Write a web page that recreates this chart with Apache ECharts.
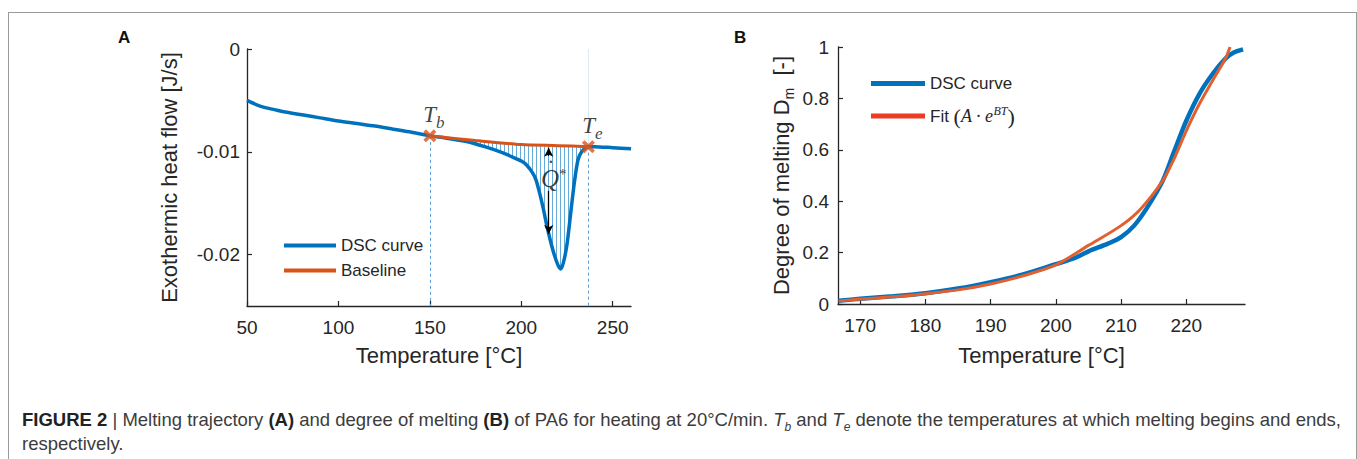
<!DOCTYPE html>
<html>
<head>
<meta charset="utf-8">
<script src="https://cdn.jsdelivr.net/npm/echarts@6/dist/echarts.min.js"></script>
<style>
  html, body { margin: 0; padding: 0; background: #fff; }
  #frame { position: absolute; left: 8px; top: 12px; width: 1347px; height: 480px; border: 1px solid #9b9b9b; }
  #chart { position: absolute; left: 0; top: 0; width: 1357px; height: 400px; }
  #caption { position: absolute; left: 22px; top: 408px; white-space: nowrap;
    font: 18.5px/24px "Liberation Sans", Arial, sans-serif; color: #3c3c3c; }
  #caption b { color: #222; }
  #caption sub { font-size: 12px; font-style: italic; line-height: 0; }
</style>
</head>
<body>
<div id="frame"></div>
<div id="chart"></div>
<div id="caption"><b>FIGURE 2</b> | Melting trajectory <b>(A)</b> and degree of melting <b>(B)</b> of PA6 for heating at 20°C/min. <i>T</i><sub>b</sub> and <i>T</i><sub>e</sub> denote the temperatures at which melting begins and ends,<br>respectively.</div>
<script>
// ---- panel A : DSC trace ----
var dscTemp = [50, 55, 60, 65, 70, 80, 90, 100, 110, 120, 130, 140, 150, 160, 170, 180, 190, 195, 200, 203, 206, 208, 210, 212, 214, 216, 218, 220, 221.5, 223, 225, 227, 229, 231, 233, 236.7, 240, 250, 260];
var dscFlow = [-0.0050, -0.0054, -0.0057, -0.0059, -0.0061, -0.0064, -0.0067, -0.0070, -0.00725, -0.0075, -0.0078, -0.0081, -0.00845, -0.0087, -0.0090, -0.0095, -0.0101, -0.0105, -0.0109, -0.0113, -0.0120, -0.0127, -0.0140, -0.0155, -0.0172, -0.0187, -0.0200, -0.0210, -0.0214, -0.0208, -0.0190, -0.0160, -0.0130, -0.0108, -0.0100, -0.0095, -0.0095, -0.0096, -0.0097];
var baseTemp = [150, 175, 200, 220, 236.7];
var baseFlow = [-0.00845, -0.0089, -0.0093, -0.0094, -0.0095];
var crossTemp = [150, 236.7];
var crossFlow = [-0.00845, -0.0095];
var crossSub = ['b', 'e'];
var ticksAx = [50, 100, 150, 200, 250];
var ticksAy = [-0.02, -0.01, 0];

// ---- panel B : degree of melting ----
var dmTemp = [166.7, 170, 175, 180, 185, 190, 195, 200, 203, 205, 208, 210, 212, 214, 216.4, 218, 220, 222, 224, 226, 227.2, 228.7];
var dmVal = [0.013, 0.02, 0.03, 0.042, 0.06, 0.085, 0.115, 0.155, 0.18, 0.205, 0.235, 0.26, 0.305, 0.375, 0.48, 0.584, 0.713, 0.817, 0.894, 0.955, 0.978, 0.991];
var fitTemp = [166.7, 170, 175, 180, 185, 190, 195, 200, 205, 210, 213, 216.4, 218, 220, 222, 224, 226, 226.7];
var fitVal = [0.012, 0.019, 0.028, 0.04, 0.055, 0.078, 0.11, 0.152, 0.228, 0.305, 0.37, 0.48, 0.558, 0.674, 0.778, 0.868, 0.955, 1.0];
var ticksBx = [170, 180, 190, 200, 210, 220];
var ticksBy = [0, 0.2, 0.4, 0.6, 0.8, 1];

function pairs(xs, ys) {
  return xs.map(function (x, i) { return [x, ys[i]]; });
}

var blue = '#0072BD', orange = '#D95319', ink = '#262626';
var serif = '"Liberation Serif", "DejaVu Serif", serif';
var sans = '"Liberation Sans", Arial, sans-serif';

// vertical hatch for the melting area
var hatch = document.createElement('canvas');
hatch.width = 4; hatch.height = 4;
var hctx = hatch.getContext('2d');
hctx.fillStyle = 'rgba(0,114,189,0.6)';
hctx.fillRect(0, 0, 1, 4);

var dscData = pairs(dscTemp, dscFlow);
var hatchData = dscData.filter(function (p) { return p[0] >= crossTemp[0] && p[0] <= crossTemp[1]; });

var chart = echarts.init(document.getElementById('chart'), null, { renderer: 'svg' });

function axisCommon(name, gap) {
  return {
    type: 'value',
    name: name,
    nameLocation: 'middle',
    nameGap: gap,
    nameTextStyle: { fontSize: 22, color: ink, fontFamily: sans },
    splitLine: { show: false },
    axisLine: { show: true, onZero: false, lineStyle: { color: ink, width: 1.3 } },
    axisTick: { show: true, inside: true, length: 5, lineStyle: { color: ink, width: 1.2 } },
    axisLabel: { fontSize: 19, color: ink, fontFamily: sans }
  };
}

var xA = axisCommon('Temperature [°C]', 38);
xA.min = 50; xA.max = 260;
xA.axisTick.customValues = ticksAx; xA.axisLabel.customValues = ticksAx; xA.axisLabel.margin = 12;
var yA = axisCommon('Exothermic heat flow [J/s]', 67);
yA.min = -0.025; yA.max = 0;
yA.axisTick.customValues = ticksAy; yA.axisLabel.customValues = ticksAy; yA.axisLabel.margin = 7;
var xB = axisCommon('Temperature [°C]', 40);
xB.min = 166.6; xB.max = 229;
xB.axisTick.customValues = ticksBx; xB.axisLabel.customValues = ticksBx; xB.axisLabel.margin = 12;
var yB = axisCommon('{a|Degree of melting D}{s|m}{a|  [-]}', 46);
yB.min = 0; yB.max = 1;
yB.axisTick.customValues = ticksBy; yB.axisLabel.customValues = ticksBy; yB.axisLabel.margin = 9;
yB.nameTextStyle.rich = {
  a: { fontSize: 22, color: ink, fontFamily: sans },
  s: { fontSize: 14, color: ink, fontFamily: sans, verticalAlign: 'bottom', padding: [0, 0, -4, 0] }
};
xB.gridIndex = 1; yB.gridIndex = 1;

chart.setOption({
  animation: false,
  grid: [
    { left: 247, top: 49, width: 384, height: 257 },
    { left: 838, top: 47, width: 407, height: 257 }
  ],
  xAxis: [xA, xB],
  yAxis: [yA, yB],
  legend: [
    {
      data: ['DSC curve', 'Baseline'],
      left: 279, top: 232, orient: 'vertical', itemGap: 8,
      icon: 'rect', itemWidth: 52, itemHeight: 4,
      textStyle: { fontSize: 17, color: ink, fontFamily: sans },
      selectedMode: false
    },
    {
      data: ['DSC curve', { name: 'Fit', itemStyle: { color: '#ec3c24' } }],
      left: 866, top: 70, orient: 'vertical', itemGap: 13,
      icon: 'rect', itemWidth: 54, itemHeight: 5,
      textStyle: {
        fontSize: 17, color: ink, fontFamily: sans,
        rich: {
          n: { fontSize: 17, color: ink, fontFamily: sans },
          p: { fontSize: 22, color: ink, fontFamily: serif },
          i: { fontSize: 18, color: ink, fontFamily: serif, fontStyle: 'italic' },
          s: { fontSize: 12, color: ink, fontFamily: serif, fontStyle: 'italic', verticalAlign: 'top' }
        }
      },
      formatter: function (name) {
        return name === 'Fit' ? '{n|Fit }{p|(}{i|A · e}{s|BT}{p|)}' : name;
      },
      selectedMode: false
    }
  ],
  graphic: [
    { type: 'text', left: 118, top: 29, style: { text: 'A', font: 'bold 17px ' + sans, fill: '#111' } },
    { type: 'text', left: 734, top: 29, style: { text: 'B', font: 'bold 17px ' + sans, fill: '#111' } }
  ],
  series: [
    {
      name: 'hatch', type: 'line', data: hatchData, smooth: 0.25,
      showSymbol: false, silent: true, z: 1,
      lineStyle: { width: 0, opacity: 0 },
      areaStyle: { color: { image: hatch, repeat: 'repeat', imageWidth: 4, imageHeight: 4 }, opacity: 1 }
    },
    {
      name: 'mask', type: 'line', data: pairs(baseTemp, baseFlow), smooth: 0.25,
      showSymbol: false, silent: true, z: 2,
      lineStyle: { width: 0, opacity: 0 },
      areaStyle: { color: '#fff', opacity: 1 }
    },
    {
      name: 'DSC curve', type: 'line', data: dscData, smooth: 0.25,
      showSymbol: false, z: 3, color: blue,
      lineStyle: { width: 3.5, color: blue }
    },
    {
      name: 'Baseline', type: 'line', data: pairs(baseTemp, baseFlow), smooth: 0.25,
      showSymbol: false, z: 4, color: orange,
      lineStyle: { width: 3, color: orange }
    },
    {
      name: 'marks', type: 'scatter', z: 6, data: pairs(crossTemp, crossFlow),
      symbol: 'path://M2,0 L5,3 L8,0 L10,2 L7,5 L10,8 L8,10 L5,7 L2,10 L0,8 L3,5 L0,2 Z',
      symbolSize: 13, itemStyle: { color: orange },
      label: {
        show: true, position: 'top', distance: 3, offset: [4, 0],
        formatter: function (p) { return '{t|T}{s|' + crossSub[p.dataIndex] + '}'; },
        rich: {
          t: { fontSize: 23, fontFamily: serif, fontStyle: 'italic', color: '#111' },
          s: { fontSize: 17, fontFamily: serif, fontStyle: 'italic', color: '#111', verticalAlign: 'bottom', padding: [0, 0, -5, 0] }
        }
      },
      markLine: {
        silent: true, symbol: 'none', z: 5,
        label: { show: false },
        lineStyle: { color: '#5b9bd5', width: 1, type: [3, 3] },
        data: crossTemp.map(function (t, i) {
          return [{ coord: [t, crossFlow[i]] }, { coord: [t, yA.min] }];
        })
      }
    },
    {
      name: 'Q', type: 'scatter', z: 7, silent: true,
      data: [[217.8, -0.0122]], symbolSize: 0,
      label: {
        show: true, position: 'inside',
        formatter: '{d|•}\n{q|Q}{a|*}',
        rich: {
          d: { fontSize: 9, lineHeight: 9, fontFamily: sans, color: '#111', padding: [0, 6, 0, 0] },
          q: { fontSize: 25, lineHeight: 24, fontFamily: serif, fontStyle: 'italic', color: '#111' },
          a: { fontSize: 15, fontFamily: serif, color: '#111', verticalAlign: 'top' }
        }
      },
      markLine: {
        silent: true, z: 7, symbol: ['none', 'arrow'], symbolSize: [7, 9],
        label: { show: false },
        lineStyle: { color: '#000', width: 1.3, type: 'solid' },
        data: [
          [{ coord: [215, -0.0104] }, { coord: [215, -0.0096] }],
          [{ coord: [215, -0.0138] }, { coord: [215, -0.0180] }]
        ]
      }
    },
    {
      name: 'DSC curve', type: 'line', xAxisIndex: 1, yAxisIndex: 1,
      data: pairs(dmTemp, dmVal), smooth: 0.3, showSymbol: false, z: 3,
      color: blue, lineStyle: { width: 4.5, color: blue }
    },
    {
      name: 'Fit', type: 'line', xAxisIndex: 1, yAxisIndex: 1,
      data: pairs(fitTemp, fitVal), smooth: 0.3, showSymbol: false, z: 4,
      color: '#E2602F', lineStyle: { width: 3, color: '#E2602F' }
    }
  ]
});
</script>
</body>
</html>
